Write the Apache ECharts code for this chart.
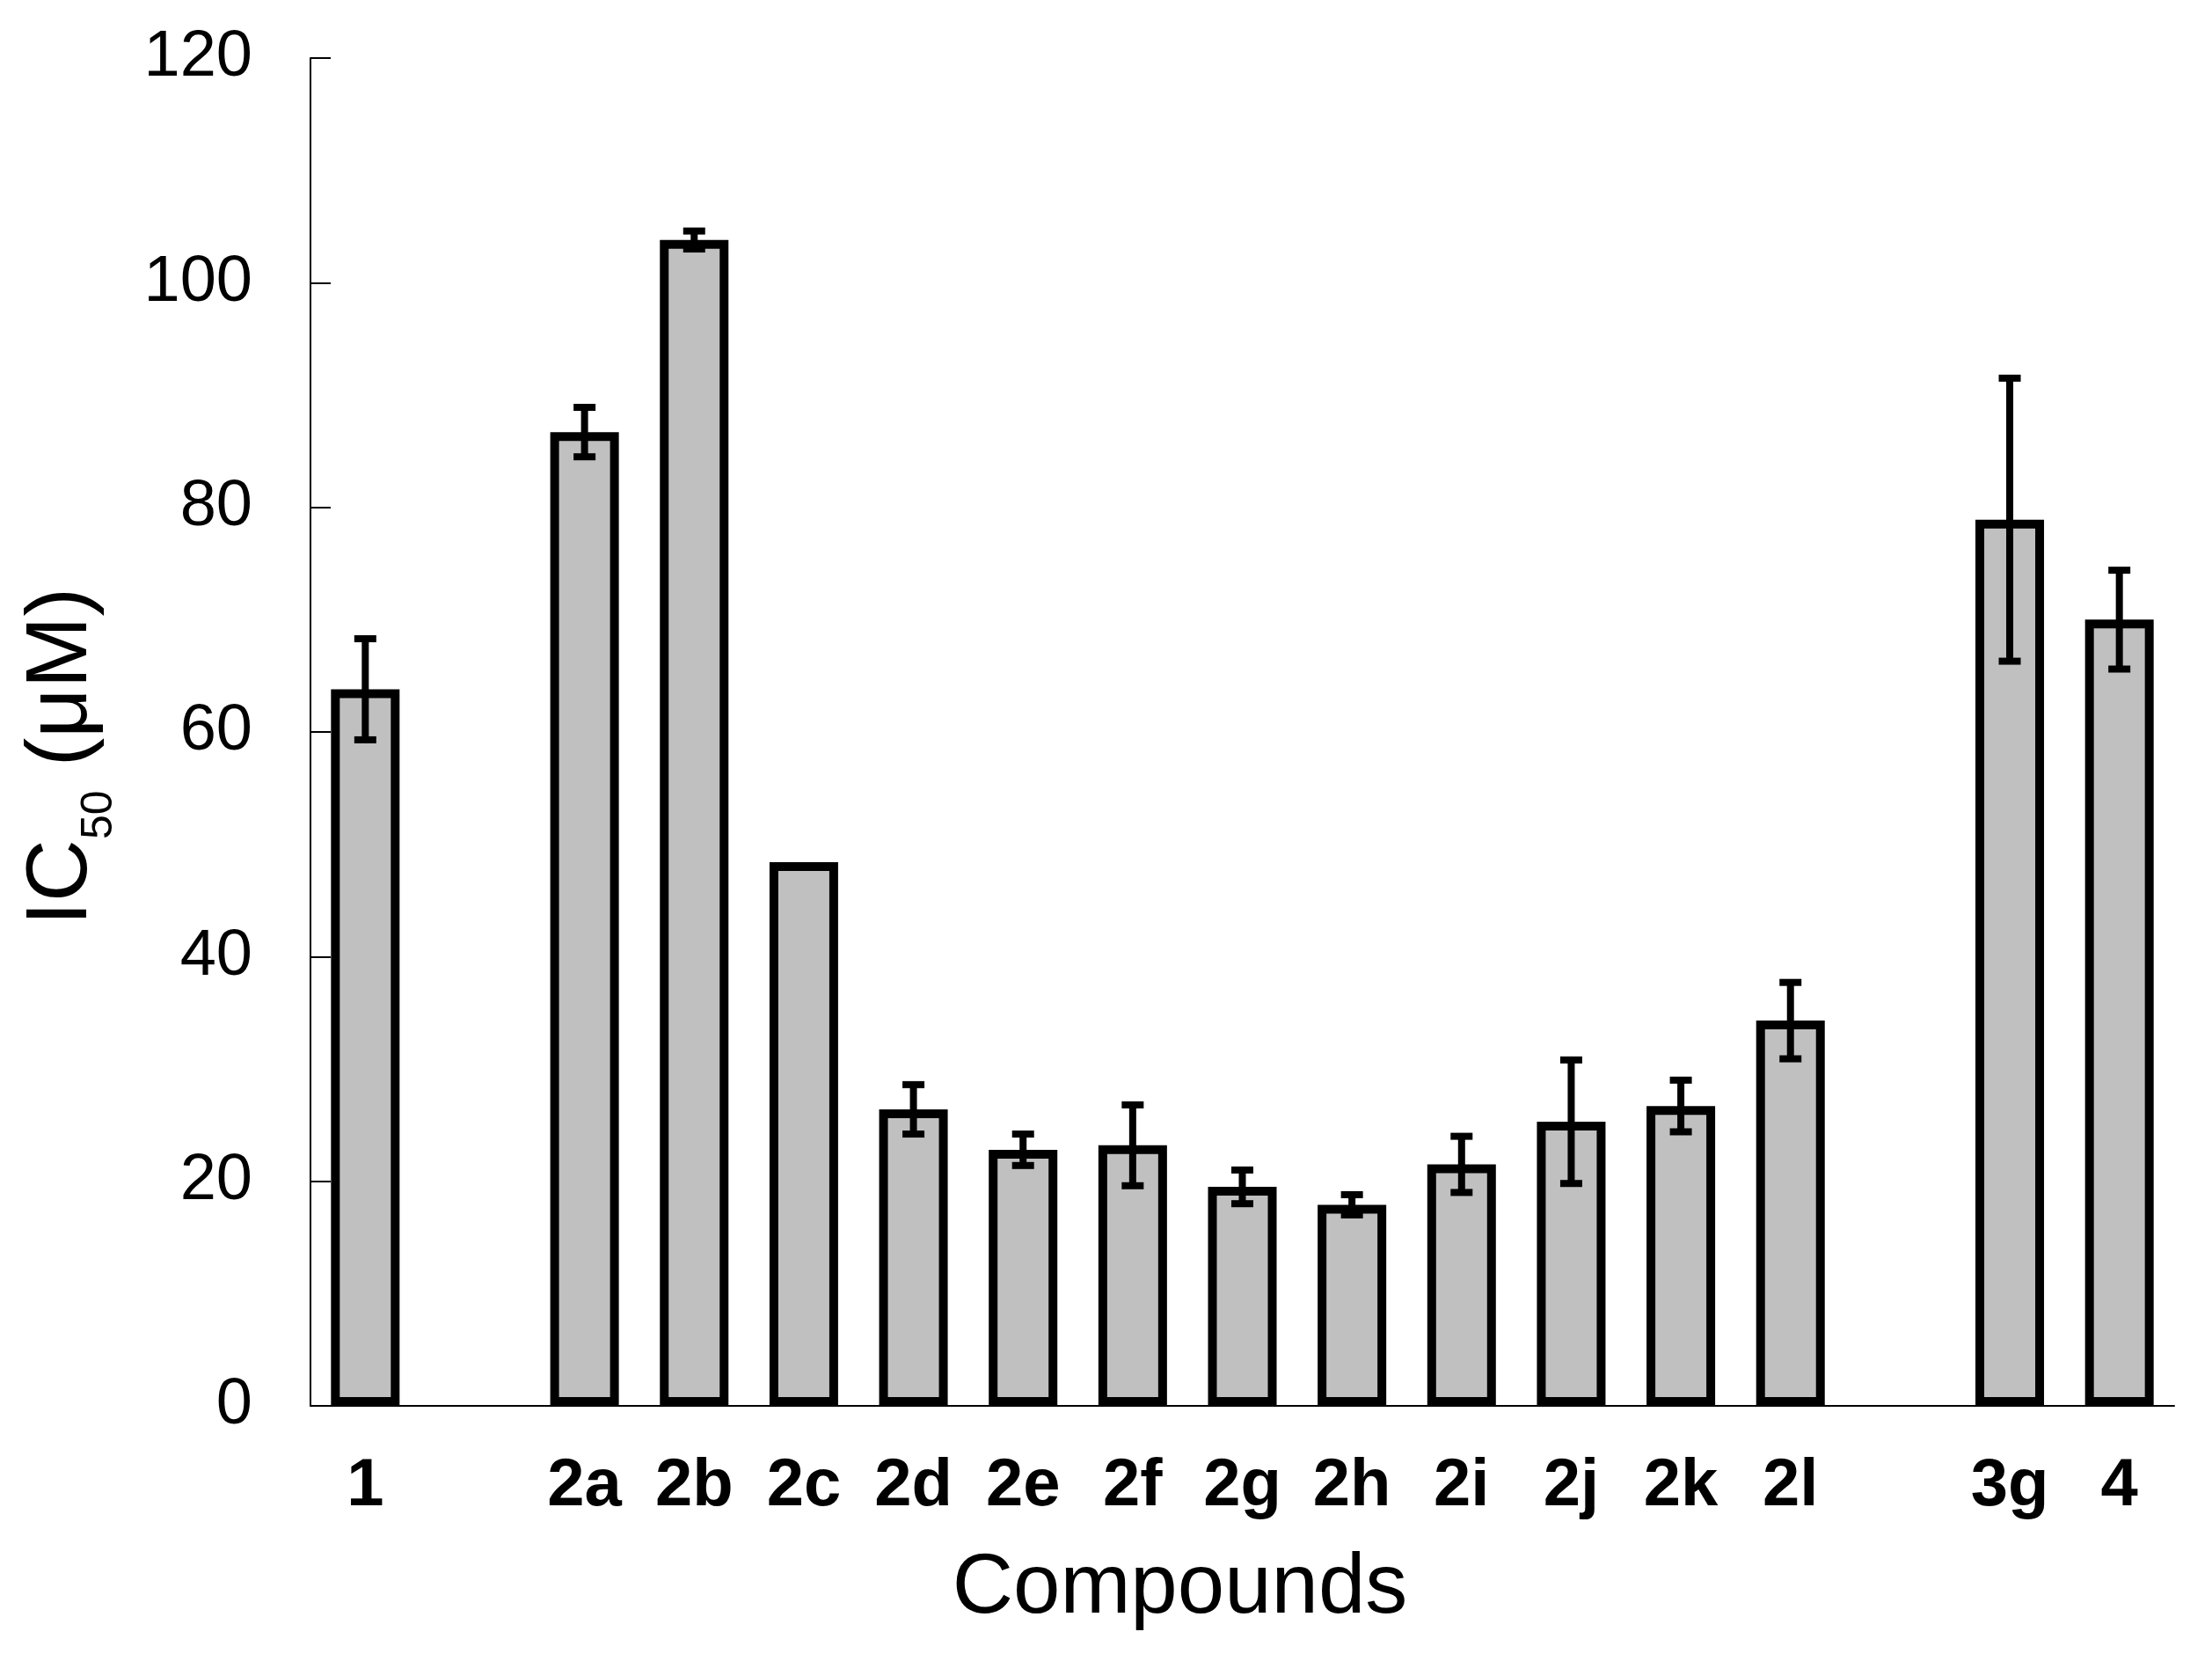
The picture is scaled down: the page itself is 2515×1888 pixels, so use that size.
<!DOCTYPE html>
<html>
<head>
<meta charset="utf-8">
<title>IC50 of compounds</title>
<script src="https://cdn.jsdelivr.net/npm/echarts@6/dist/echarts.min.js"></script>
<style>
    html, body { margin: 0; padding: 0; background: #fff; }
    #chart { width: 2515px; height: 1888px; }
</style>
</head>
<body>
<div id="chart"></div>
<script>
    // x categories, the blank slots are the gaps between the compound groups
    var compounds = ['1', ' ', '2a', '2b', '2c', '2d', '2e', '2f', '2g', '2h', '2i', '2j', '2k', '2l', '  ', '3g', '4'];
    // IC50 in uM ('-' = empty slot)
    var ic50 = [63.8, '-', 86.7, 103.8, 48.4, 26.4, 22.8, 23.2, 19.5, 17.9, 21.5, 25.3, 26.7, 34.3, '-', 78.9, 70.0];
    // error (+/-), 0 = no error bar drawn
    var sd = [4.5, '-', 2.2, 0.8, 0, 2.2, 1.4, 3.6, 1.5, 0.9, 2.5, 5.5, 2.3, 3.4, '-', 12.6, 4.4];
    // y axis ticks
    var yMin = 0;
    var yMax = 120;
    var yStep = 20;

    var font = "'Liberation Sans', Arial, sans-serif";

    // [index, low, high] for the error bars
    var errData = [];
    ic50.forEach(function (v, i) {
        if (v === '-' || !sd[i]) return;
        errData.push([i, v - sd[i], v + sd[i]]);
    });

    function renderErrorBar(params, api) {
        var idx = api.value(0);
        var lo = api.coord([idx, api.value(1)]);
        var hi = api.coord([idx, api.value(2)]);
        var half = 12.5;
        var style = {stroke: '#000', lineWidth: 8};
        return {
            type: 'group',
            children: [
                {type: 'line', shape: {x1: hi[0], y1: hi[1], x2: lo[0], y2: lo[1]}, style: style},
                {type: 'line', shape: {x1: hi[0] - half, y1: hi[1], x2: hi[0] + half, y2: hi[1]}, style: style},
                {type: 'line', shape: {x1: lo[0] - half, y1: lo[1], x2: lo[0] + half, y2: lo[1]}, style: style}
            ]
        };
    }

    var option = {
        animation: false,
        backgroundColor: '#fff',
        grid: {left: 353, right: 43, top: 66, bottom: 290, containLabel: false},
        xAxis: {
            type: 'category',
            data: compounds,
            name: 'Compounds',
            nameLocation: 'middle',
            nameGap: 161,
            nameTextStyle: {
                fontFamily: font,
                fontSize: 96,
                color: '#000',
                padding: [0, 142, 0, 0]
            },
            axisLine: {lineStyle: {color: '#000', width: 2}},
            axisTick: {inside: true, length: 23, interval: 0, lineStyle: {color: '#000', width: 2}},
            axisLabel: {
                interval: 0,
                margin: 54,
                fontFamily: font,
                fontSize: 76,
                fontWeight: 'bold',
                color: '#000'
            },
            splitLine: {show: false}
        },
        yAxis: {
            type: 'value',
            min: yMin,
            max: yMax,
            interval: yStep,
            // IC subscript 50
            name: '{m|IC}{s|50}{m| (μM)}',
            nameLocation: 'middle',
            nameGap: 215,
            nameTextStyle: {
                padding: [0, 56, 0, 0],
                rich: {
                    m: {fontFamily: font, fontSize: 98, lineHeight: 98, verticalAlign: 'top', color: '#000'},
                    s: {fontFamily: font, fontSize: 50, lineHeight: 116, verticalAlign: 'bottom', color: '#000'}
                }
            },
            axisLine: {show: true, lineStyle: {color: '#000', width: 2}},
            axisTick: {show: true, inside: true, length: 23, lineStyle: {color: '#000', width: 2}},
            axisLabel: {margin: 66, fontFamily: font, fontSize: 74, color: '#000'},
            splitLine: {show: false}
        },
        series: [
            {
                name: 'IC50',
                type: 'bar',
                data: ic50,
                barWidth: 78,
                itemStyle: {color: '#c0c0c0', borderColor: '#000', borderWidth: 10}
            },
            {
                name: 'error',
                type: 'custom',
                data: errData,
                encode: {x: 0, y: [1, 2]},
                renderItem: renderErrorBar,
                z: 5
            }
        ]
    };

    var chart = echarts.init(document.getElementById('chart'));
    chart.setOption(option);
    window.addEventListener('resize', function () {
        chart.resize();
    });
</script>
</body>
</html>
